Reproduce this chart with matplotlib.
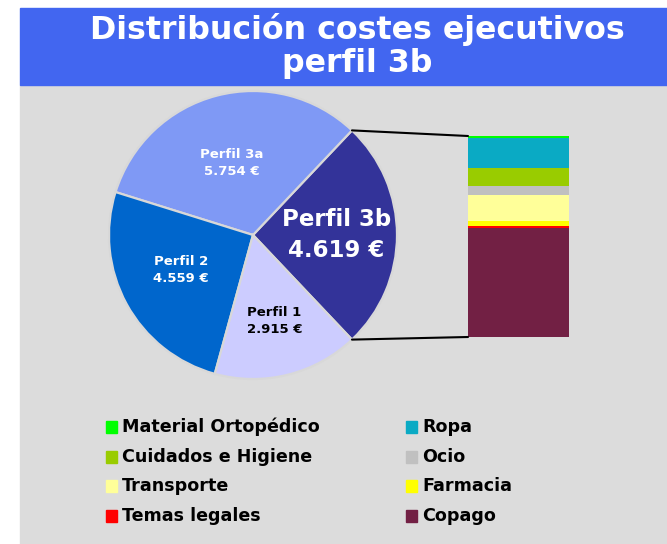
import numpy as np
import matplotlib
matplotlib.use("Agg")
import matplotlib.pyplot as plt
from matplotlib.patches import Rectangle, ConnectionPatch

# datos del gráfico
perfiles = ['Perfil 3b', 'Perfil 3a', 'Perfil 2', 'Perfil 1']
costes = [4619, 5754, 4559, 2915]
colores_pie = ['#333399', '#7F99F5', '#0066CC', '#CCCCFF']

conceptos = ['Material Ortopédico', 'Ropa', 'Cuidados e Higiene', 'Ocio',
             'Transporte', 'Farmacia', 'Temas legales', 'Copago']
porcentajes = [1.0, 15.0, 9.0, 4.5, 13.0, 2.5, 1.0, 54.0]
colores_bar = ['#00FF00', '#0AAAC4', '#99CC00', '#C0C0C0',
               '#FFFF99', '#FFFF00', '#FF0000', '#722044']

W, H = 667, 544
fig = plt.figure(figsize=(W / 100, H / 100), dpi=100)
fig.patch.set_facecolor('white')

# fondo gris y banda del título
fig.patches.append(Rectangle((20 / W, 0), 1 - 20 / W, (H - 85) / H,
                             transform=fig.transFigure, color='#DCDCDC', zorder=-2))
fig.patches.append(Rectangle((20 / W, (H - 85) / H), 1 - 20 / W, 77 / H,
                             transform=fig.transFigure, color='#4266F0', zorder=-2))
fig.text(357 / W, 1 - 46 / H, 'Distribución costes ejecutivos\nperfil 3b',
         ha='center', va='center', color='white', fontsize=22.8,
         fontweight='bold', linespacing=1.12)

# tarta
cx, cy, r = 253, 235, 144
ax = fig.add_axes([(cx - r) / W, (H - cy - r) / H, 2 * r / W, 2 * r / H])
ang0 = -costes[0] / sum(costes) * 180
wedges, _ = ax.pie(costes, colors=colores_pie, startangle=ang0, counterclock=True,
                   wedgeprops=dict(edgecolor='#D8D8D8', linewidth=1.6))
ax.set_xlim(-1, 1)
ax.set_ylim(-1, 1)
ax.set_aspect('equal')
ax.axis('off')

etiquetas = [
    ('Perfil 3b\n4.619 €', 0.58, 0.0, 'white', 16.5, 1.45),
    ('Perfil 3a\n5.754 €', -0.15, 0.50, 'white', 9.5, 1.4),
    ('Perfil 2\n4.559 €', -0.50, -0.24, 'white', 9.5, 1.4),
    ('Perfil 1\n2.915 €', 0.15, -0.60, 'black', 9.5, 1.4),
]
for txt, x, y, c, fs, ls in etiquetas:
    ax.text(x, y, txt, ha='center', va='center', color=c, fontsize=fs,
            fontweight='bold', linespacing=ls)

# barra apilada
bx = fig.add_axes([468 / W, (H - 337) / H, 101 / W, 201 / H])
fondo = 0
for v, c in zip(porcentajes[::-1], colores_bar[::-1]):
    bx.bar(0.5, v, width=1, bottom=fondo, color=c, edgecolor='none')
    fondo += v
bx.set_xlim(0, 1)
bx.set_ylim(0, sum(porcentajes))
bx.axis('off')

# líneas de unión
w = wedges[0]
for th, yb in [(w.theta2, sum(porcentajes)), (w.theta1, 0)]:
    p = (np.cos(np.radians(th)), np.sin(np.radians(th)))
    con = ConnectionPatch(xyA=p, coordsA=ax.transData, xyB=(0, yb), coordsB=bx.transData,
                          color='black', linewidth=1.5)
    fig.add_artist(con)

# leyenda
for i, (nom, c) in enumerate(zip(conceptos, colores_bar)):
    fila, col = i // 2, i % 2
    yc = 427 + fila * 29.7
    xm = 106 if col == 0 else 406
    fig.patches.append(Rectangle((xm / W, 1 - (yc + 6) / H), 11 / W, 12 / H,
                                 transform=fig.transFigure, color=c, zorder=2))
    fig.text((xm + 16) / W, 1 - yc / H, nom, ha='left', va='center',
             fontsize=12.6, fontweight='bold', color='black')

fig.savefig('out.png', dpi=100, facecolor=fig.get_facecolor())
